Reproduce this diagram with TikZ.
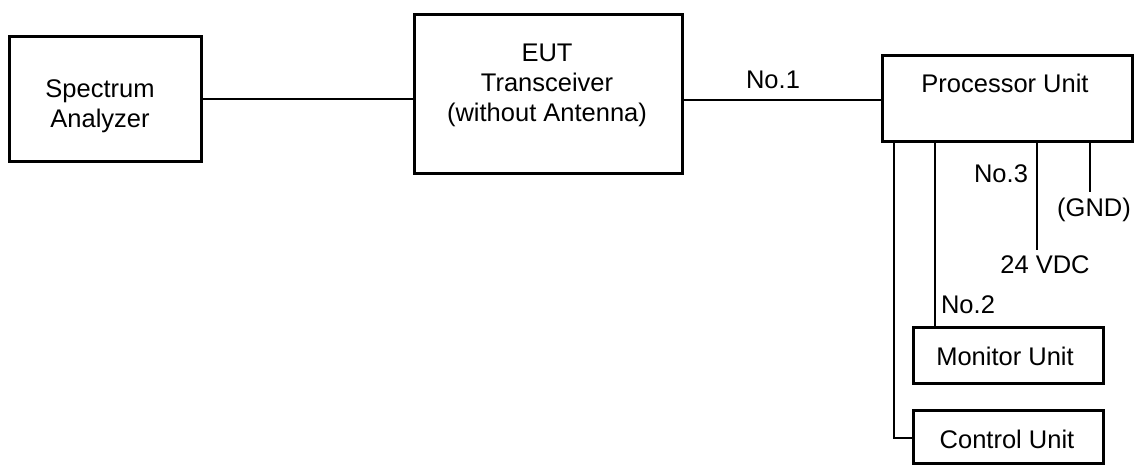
\documentclass[tikz,border=0pt]{standalone}
\usepackage{fontspec}
\setmainfont{Liberation Sans}
\begin{document}
\begin{tikzpicture}[x=1pt,y=-1pt,
  box/.style={draw,line width=3pt,inner sep=0pt,anchor=north west},
  wire/.style={line width=2.8pt},
  txt/.style={inner sep=0pt,anchor=base,align=center,font=\fontsize{25.5}{30}\selectfont}]
\useasboundingbox (0,0) rectangle (1140,465);
% boxes
\node[box,minimum width=192pt,minimum height=125pt] (sa) at (8,35) {};
\node[box,minimum width=268pt,minimum height=159pt] (eut) at (413,13) {};
\node[box,minimum width=250pt,minimum height=86pt] (pu) at (881,54) {};
\node[box,minimum width=190pt,minimum height=56pt] (mu) at (912,326) {};
\node[box,minimum width=190pt,minimum height=53pt] (cu) at (912,409) {};
% texts (base = baseline of last line)
\node[txt] (satxt) at (100,128) {Spectrum\\Analyzer};
\node[txt] (euttxt) at (547,122) {EUT\\Transceiver\\(without Antenna)};
\node[txt] (putxt) at (1005,93) {Processor Unit};
\node[txt] (mutxt) at (1005,365) {Monitor Unit};
\node[txt] (cutxt) at (1007,448) {Control Unit};
\node[txt] (no1) at (773,89) {No.1};
\node[txt] (no3) at (1001,183) {No.3};
\node[txt] (gnd) at (1094,217) {(GND)};
\node[txt] (vdc) at (1045,273) {24 VDC};
\node[txt] (no2) at (968,313) {No.2};
% coordinates for free ends
\coordinate (vend) at (1037,250);
\coordinate (gend) at (1090,192);
% connectors
\draw[wire] (sa.east) -- (eut.west |- sa.east);
\draw[wire] (eut.east |- 0,100) -- (pu.west |- 0,100);
\draw[wire] (pu.south -| 894,0) -- (894,438) -- (cu.west |- 0,438);
\draw[wire] (pu.south -| 935,0) -- (mu.north -| 935,0);
\draw[wire] (pu.south -| vend) -- (vend);
\draw[wire] (pu.south -| gend) -- (gend);
\end{tikzpicture}
\end{document}
